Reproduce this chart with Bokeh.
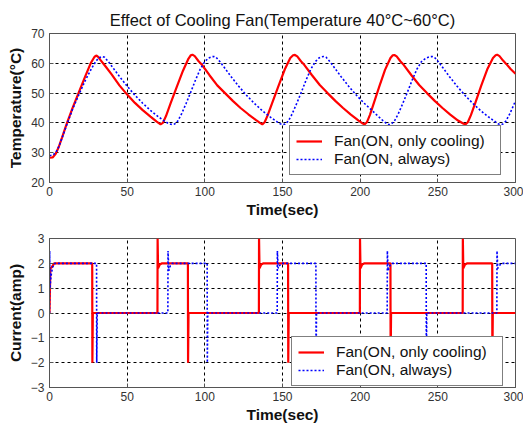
from bokeh.plotting import figure
from bokeh.layouts import column
from bokeh.models import FixedTicker, Range1d
from bokeh.embed import file_html
from bokeh.resources import INLINE

# ---------------- data ----------------
title_text = "Effect of Cooling Fan(Temperature 40°C~60°C)"
legend_red = "Fan(ON, only cooling)"
legend_blue = "Fan(ON, always)"
x_ticks = [0, 50, 100, 150, 200, 250, 300]
temp_ticks = [20, 30, 40, 50, 60, 70]
cur_ticks = [-3, -2, -1, 0, 1, 2, 3]

red_temp_t = [0, 2, 4, 6, 8, 11, 15, 19, 23, 26.5, 29, 30.3,
              31.5, 33, 36, 40, 45, 50, 55, 60, 65, 69, 71.5,
              73, 75, 78, 82, 86, 89.5, 91, 92,
              93.5, 96, 98, 103, 108, 113, 118, 123, 128, 133, 135.5, 137,
              138.5, 140.5, 143.5, 147.5, 151.5, 155, 156.8, 158,
              159.5, 162, 164, 169, 174, 179, 184, 189, 194, 199, 201.3, 202.8,
              204.3, 206.3, 209, 212.5, 216, 219.5, 221, 222,
              223.5, 226, 228, 233, 238, 243, 248, 253, 258, 263, 266.3, 267.8,
              269.3, 271.3, 274.3, 278, 282, 285.5, 287.2, 288.2,
              289.7, 292, 294, 297, 300]
red_temp_v = [28.3, 28.4, 29.6, 32.0, 35.0, 39.6, 45.2, 50.4, 55.6, 60.0, 62.2, 62.6,
              62.1, 61.0, 59.0, 56.3, 52.6, 49.5, 46.7, 44.3, 42.1, 40.4, 39.5,
              40.0, 42.3, 46.6, 52.2, 57.6, 61.6, 62.7, 62.9,
              62.4, 60.7, 59.6, 56.0, 52.6, 50.0, 47.4, 45.0, 42.9, 40.9, 40.0, 39.5,
              40.2, 42.6, 46.9, 52.5, 58.0, 61.8, 62.7, 62.8,
              62.3, 60.6, 59.5, 56.0, 52.7, 50.0, 47.4, 45.0, 42.8, 40.8, 39.9, 39.5,
              40.2, 42.7, 47.0, 52.5, 57.8, 61.8, 62.7, 62.8,
              62.3, 60.6, 59.5, 56.0, 52.7, 50.0, 47.4, 45.0, 42.8, 40.8, 39.8, 39.5,
              40.2, 42.6, 47.0, 52.6, 58.2, 61.8, 62.7, 62.9,
              62.4, 60.9, 59.8, 58.0, 56.5]

blue_temp_t = [0, 2, 4, 6, 8, 11, 15, 19, 23, 27, 30, 32, 34,
               35.5, 38, 41, 45, 50, 55, 60, 65, 70, 74, 77, 79,
               80.5, 82.5, 85, 88, 91, 94, 97, 100, 102.5, 104.5, 105.8,
               107.3, 109.8, 112.8, 116.8, 121.8, 126.8, 131.8, 136.8, 141.8, 145.8, 148.5, 150.2,
               151.7, 153.7, 156.2, 159.2, 162.2, 165.2, 168.2, 171.2, 173.5, 175.3, 176.6,
               178.1, 180.6, 183.6, 187.6, 192.6, 197.6, 202.6, 207.6, 212, 215.5, 217.3, 218.5,
               220, 222, 224.5, 227.5, 230.5, 233.5, 236.5, 239.5, 242.5, 244.8, 246.4,
               247.9, 250.4, 253.4, 257.4, 262.4, 267.4, 272.4, 277.4, 282.4, 286.4, 288.8, 290.3,
               291.8, 293.8, 296.3, 298.5, 300]
blue_temp_v = [29.0, 29.2, 30.0, 32.0, 34.8, 39.2, 44.8, 49.6, 54.2, 58.2, 60.8, 61.9, 62.3,
               62.0, 60.5, 58.4, 55.6, 52.3, 49.3, 46.6, 44.2, 42.1, 40.6, 39.7, 39.4,
               39.6, 40.6, 43.0, 46.6, 50.4, 54.4, 58.0, 60.6, 61.8, 62.2, 62.3,
               62.0, 60.5, 58.4, 55.6, 52.3, 49.3, 46.6, 44.2, 42.1, 40.6, 39.7, 39.4,
               39.6, 40.6, 43.0, 46.6, 50.4, 54.4, 58.0, 60.6, 61.8, 62.2, 62.3,
               62.0, 60.5, 58.4, 55.6, 52.3, 49.3, 46.6, 44.2, 42.0, 40.4, 39.7, 39.4,
               39.6, 40.6, 43.0, 46.6, 50.4, 54.4, 58.0, 60.6, 61.8, 62.2, 62.3,
               62.0, 60.5, 58.4, 55.6, 52.3, 49.3, 46.6, 44.2, 42.1, 40.6, 39.7, 39.4,
               39.6, 40.6, 43.0, 45.6, 47.4]

red_cur_t = [0, 0.3, 0.6, 1.5, 3, 27.5, 27.6, 27.9, 69.5, 69.6, 69.9, 71, 72.5,
             89.1, 89.2, 89.5, 134.8, 134.9, 135.2, 136.3, 137.8,
             153.6, 153.7, 154.0, 199.8, 199.9, 200.2, 201.3, 202.8,
             219.5, 219.6, 219.9, 266, 266.1, 266.4, 267.5, 269,
             285, 285.1, 285.4, 300]
red_cur_v = [0, 1.0, 1.8, 1.85, 2.0, 2.0, -2.0, 0, 0, 3.0, 1.8, 1.95, 2.0,
             2.0, -2.0, 0, 0, 3.0, 1.8, 1.95, 2.0,
             2.0, -2.0, 0, 0, 3.0, 1.8, 1.95, 2.0,
             2.0, -2.0, 0, 0, 3.0, 1.8, 1.95, 2.0,
             2.0, -2.0, 0, 0]

blue_cur_t = [0, 0.1, 0.3, 1, 2, 3.5, 30.3, 30.4, 30.7, 76.2, 76.3, 76.8, 77.8, 79,
              101.5, 101.6, 101.9, 146.6, 146.7, 147.2, 148, 149.5,
              171.5, 171.6, 171.9, 217.4, 217.5, 218, 219, 220.5,
              242.5, 242.6, 242.9, 288, 288.1, 288.6, 289.5, 291, 300]
blue_cur_v = [0, 2.5, 1.0, 1.5, 1.85, 2.0, 2.0, -2.0, 0, 0, 2.5, 1.7, 1.9, 2.0,
              2.0, -2.0, 0, 0, 2.5, 1.8, 1.9, 2.0,
              2.0, -2.0, 0, 0, 2.5, 1.7, 1.9, 2.0,
              2.0, -2.0, 0, 0, 2.5, 1.8, 1.9, 2.0, 2.0]

# ---------------- styling helpers ----------------
FONT = "Liberation Sans"
RED = "#ff0000"
BLUE = "#0000ff"


def style(p, ylabel, yticks):
    p.xaxis.ticker = FixedTicker(ticks=x_ticks)
    p.yaxis.ticker = FixedTicker(ticks=yticks)
    for ax in (p.xaxis[0], p.yaxis[0]):
        ax.major_tick_in = 4
        ax.major_tick_out = 0
        ax.minor_tick_line_color = None
        ax.major_tick_line_color = "#555555"
        ax.axis_line_color = "#555555"
        ax.major_label_text_font = FONT
        ax.major_label_text_font_size = "12px"
        ax.major_label_text_color = "#333333"
        ax.axis_label_text_font = FONT
        ax.axis_label_text_font_size = "15.5px"
        ax.axis_label_text_font_style = "bold"
        ax.axis_label_text_color = "#111111"
    p.xaxis.axis_label = "Time(sec)"
    p.yaxis.axis_label = ylabel
    p.xaxis.major_label_standoff = 4
    p.xaxis.axis_label_standoff = 2
    p.yaxis.major_label_standoff = 5
    p.yaxis.axis_label_standoff = 4
    p.outline_line_color = "#555555"
    p.outline_line_width = 1
    for g in (p.xgrid[0], p.ygrid[0]):
        g.grid_line_color = "black"
        g.grid_line_dash = "3 3"
        g.grid_line_width = 1
    p.background_fill_color = "white"
    p.border_fill_color = "white"


def style_legend(p, loc):
    lg = p.legend[0]
    lg.location = loc
    lg.label_text_font = FONT
    lg.label_text_font_size = "15.5px"
    lg.label_text_color = "#111111"
    lg.glyph_width = 26
    lg.glyph_height = 14
    lg.label_height = 14
    lg.label_width = 160
    lg.label_standoff = 12
    lg.spacing = 0
    lg.padding = 6
    lg.margin = 0
    lg.border_line_color = "black"
    lg.border_line_width = 1
    lg.background_fill_color = "white"
    lg.background_fill_alpha = 1.0


# ---------------- top: temperature ----------------
p1 = figure(width=523, height=225, output_backend="svg", toolbar_location=None,
            x_range=Range1d(0, 300), y_range=Range1d(20, 70),
            min_border_left=49, min_border_right=8, min_border_top=33, min_border_bottom=43)
p1.title.text = title_text
p1.title.text_font = FONT
p1.title.text_font_size = "16.5px"
p1.title.text_font_style = "normal"
p1.title.align = "center"
p1.title.standoff = 10
p1.title.text_color = "#111111"
style(p1, "Temperature(°C)", temp_ticks)
p1.line(red_temp_t, red_temp_v, line_color=RED, line_width=2.2, legend_label=legend_red)
p1.line(blue_temp_t, blue_temp_v, line_color=BLUE, line_width=1.6, line_dash="2 2",
        legend_label=legend_blue)
style_legend(p1, (240, 7))

# ---------------- bottom: current ----------------
p2 = figure(width=523, height=200, output_backend="svg", toolbar_location=None,
            x_range=Range1d(0, 300), y_range=Range1d(-3, 3),
            min_border_left=49, min_border_right=8, min_border_top=13, min_border_bottom=38)
style(p2, "Current(amp)", cur_ticks)
p2.line(red_cur_t, red_cur_v, line_color=RED, line_width=2.2, legend_label=legend_red)
p2.line(blue_cur_t, blue_cur_v, line_color=BLUE, line_width=1.6, line_dash="2 2",
        legend_label=legend_blue)
style_legend(p2, (242, 1))

layout = column(p1, p2, spacing=0)
open("out.html", "w").write(file_html(layout, INLINE))
